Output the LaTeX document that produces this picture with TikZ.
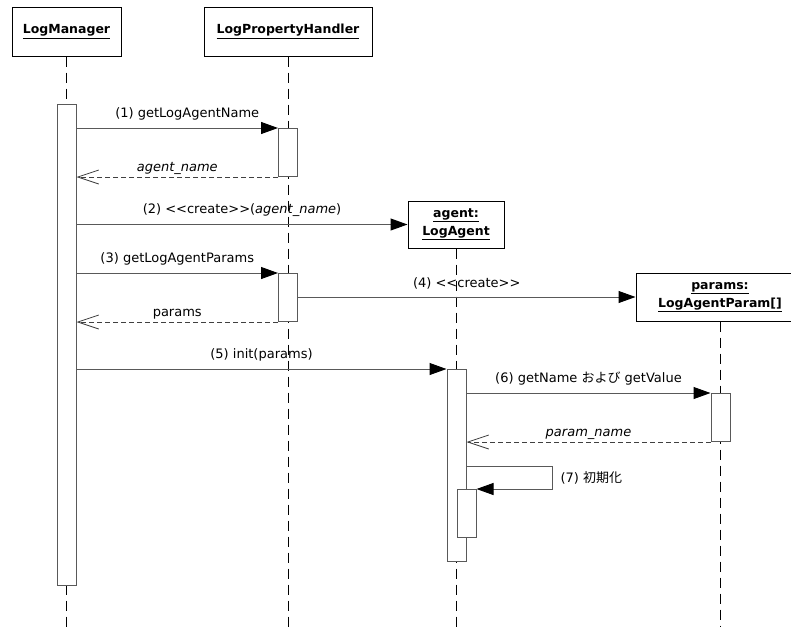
\documentclass[tikz,border=0pt]{standalone}
\usepackage{fontspec}
\setmainfont{DejaVu Sans}
\newfontfamily\jpfont{Noto Sans CJK JP}
\usetikzlibrary{arrows.meta}

\newcommand{\stereo}[1]{<\kern0pt<#1>\kern0pt>}

\begin{document}
\begin{tikzpicture}[x=1pt, y=-1pt,
  obj/.style={rectangle, draw=black, line width=1pt, fill=white, align=center,
              font=\fontsize{12.5}{18}\selectfont\bfseries, inner sep=2pt},
  act/.style={rectangle, draw=black!65, line width=1pt, fill=white,
              minimum width=19pt, anchor=north, inner sep=0pt},
  life/.style={black, line width=0.9pt, dash pattern=on 10pt off 6pt},
  msg/.style={-{Triangle[length=17pt, width=12pt, color=black]}, black!65, line width=1pt},
  ret/.style={-{Straight Barb[length=21pt, width=14pt]}, black!75, line width=0.8pt,
              dash pattern=on 5pt off 3pt},
  lbl/.style={text=black, font=\fontsize{13}{15}\selectfont, inner sep=1pt, above, yshift=6pt},
  rlbl/.style={text=black, font=\fontsize{13}{15}\selectfont\itshape, inner sep=1pt, above, yshift=1pt}
]
\useasboundingbox (0,0) rectangle (791,627);
\coordinate (bot) at (0,627);

\node[obj, minimum width=109pt, minimum height=49pt] (lm)  at (66.5,31.5) {\underline{LogManager}};
\node[obj, minimum width=168pt, minimum height=49pt] (lph) at (288,31.5)  {\underline{LogPropertyHandler}};
\node[obj, minimum width=96pt, minimum height=47pt]  (agent)  at (456,224.5) {\underline{agent:}\\\underline{LogAgent}};
\node[obj, minimum width=168pt, minimum height=48pt] (params) at (720,297)   {\underline{params:}\\\underline{LogAgentParam[]}};

\draw[life] (lm.south) -- (lm.south |- bot);
\draw[life] (lph.south) -- (lph.south |- bot);
\draw[life] (agent.south) -- (agent.south |- bot);
\draw[life] (params.south) -- (params.south |- bot);

\node[act, minimum height=481pt] (actLM)   at (66.5,104) {};
\node[act, minimum height=48pt]  (actLPHa) at (288,128)  {};
\node[act, minimum height=48pt]  (actLPHb) at (288,273)  {};
\node[act, minimum height=192pt] (actAg)   at (456.5,369) {};
\node[act, minimum height=48pt]  (actPar)  at (720.5,393) {};
\node[act, minimum height=48pt]  (actAgb)  at (466.5,489) {};
\coordinate (s7) at (552,466);

\draw[msg] (actLM.east |- actLPHa.north) -- node[lbl, xshift=10pt] (l1) {(1) getLogAgentName} (actLPHa.north west);
\draw[ret] (actLPHa.south west) -- node[rlbl] (r1) {agent\_name} (actLM.east |- actLPHa.south);
\draw[msg] (actLM.east |- agent.west) -- node[lbl] (l2) {(2) \stereo{create}(\textit{agent\_name})} (agent.west);
\draw[msg] (actLM.east |- actLPHb.north) -- node[lbl] (l3) {(3) getLogAgentParams} (actLPHb.north west);
\draw[msg] (actLPHb.east |- params.west) -- node[lbl] (l4) {(4) \stereo{create}} (params.west);
\draw[ret] (actLPHb.south west) -- node[rlbl, font=\fontsize{13}{15}\selectfont] (r3) {params} (actLM.east |- actLPHb.south);
\draw[msg] (actLM.east |- actAg.north) -- node[lbl] (l5) {(5) init(params)} (actAg.north west);
\draw[msg] (actAg.east |- actPar.north) -- node[lbl] (l6) {(6) getName {\jpfont および} getValue} (actPar.north west);
\draw[ret] (actPar.south west) -- node[rlbl] (r6) {param\_name} (actAg.east |- actPar.south);
\draw[msg] (actAg.east |- s7) -- (s7) |- node[pos=.25, right=7pt, text=black, font=\fontsize{13}{15}\selectfont, inner sep=1pt] (l7) {(7) {\jpfont 初期化}} (actAgb.north east);
\end{tikzpicture}
\end{document}
